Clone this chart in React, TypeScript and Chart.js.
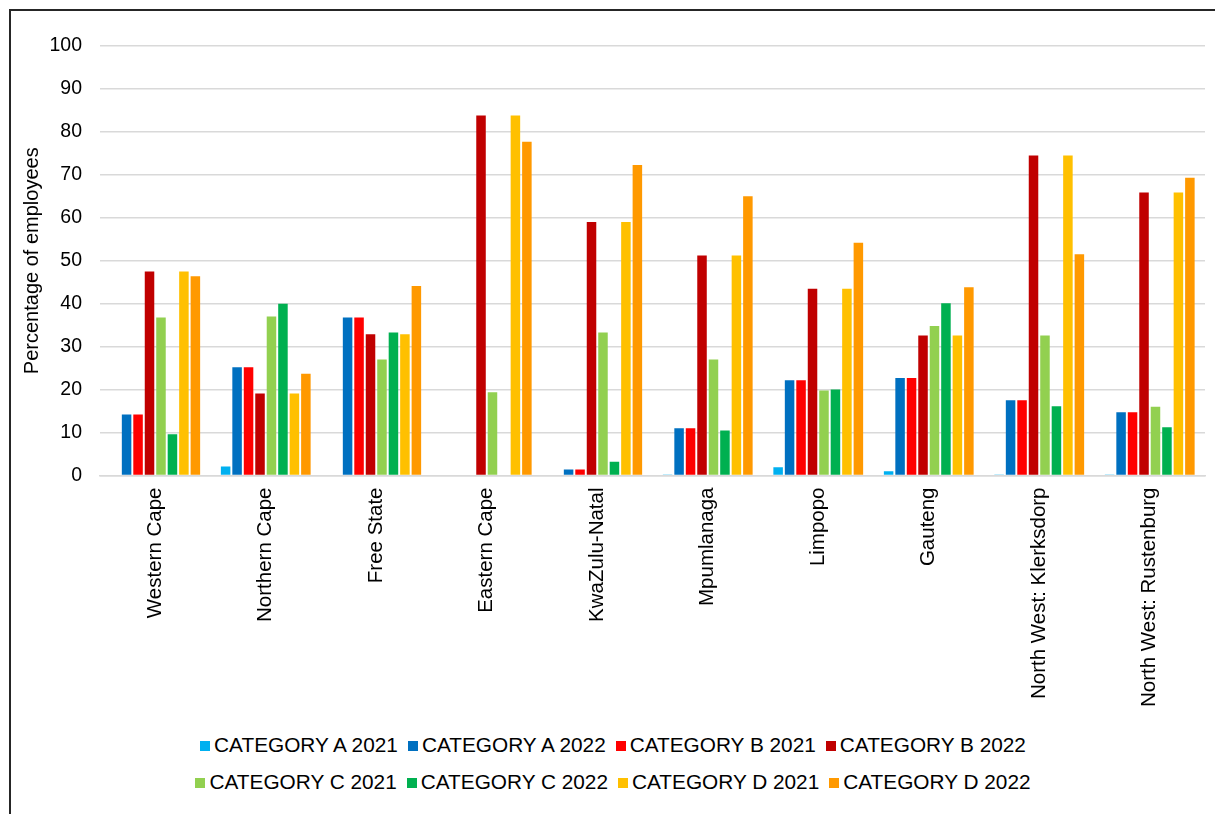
import React, { useEffect, useRef } from "react";
import { Chart, registerables } from "chart.js";

Chart.register(...registerables);

const regions = [
  "Western Cape",
  "Northern Cape",
  "Free State",
  "Eastern Cape",
  "KwaZulu-Natal",
  "Mpumlanaga",
  "Limpopo",
  "Gauteng",
  "North West: Klerksdorp",
  "North West: Rustenburg",
];

const catA2021 = [0, 2.1, 0, 0, 0, 0.2, 1.9, 1.0, 0.1, 0.1];
const catA2022 = [14.2, 25.2, 36.8, 0, 1.4, 11.0, 22.2, 22.7, 17.5, 14.7];
const catB2021 = [14.2, 25.2, 36.8, 0, 1.4, 11.0, 22.2, 22.7, 17.5, 14.7];
const catB2022 = [47.5, 19.1, 32.9, 83.8, 59.0, 51.2, 43.5, 32.6, 74.5, 65.9];
const catC2021 = [36.8, 37.0, 27.0, 19.4, 33.3, 27.0, 19.8, 34.8, 32.6, 16.0];
const catC2022 = [9.6, 40.0, 33.3, 0, 3.2, 10.5, 20.0, 40.1, 16.1, 11.2];
const catD2021 = [47.5, 19.1, 32.9, 83.8, 59.0, 51.2, 43.5, 32.6, 74.5, 65.9];
const catD2022 = [46.4, 23.7, 44.1, 77.7, 72.3, 65.0, 54.2, 43.8, 51.5, 69.3];

const seriesNames = [
  "CATEGORY A 2021",
  "CATEGORY A 2022",
  "CATEGORY B 2021",
  "CATEGORY B 2022",
  "CATEGORY C 2021",
  "CATEGORY C 2022",
  "CATEGORY D 2021",
  "CATEGORY D 2022",
];
const seriesValues = [catA2021, catA2022, catB2021, catB2022, catC2021, catC2022, catD2021, catD2022];
const seriesColors = ["#00B0F0", "#0070C0", "#FF0000", "#C00000", "#92D050", "#00B050", "#FFC000", "#FF9900"];

const yTicks = [0, 10, 20, 30, 40, 50, 60, 70, 80, 90, 100];

const FONT = "'Liberation Sans', Arial, sans-serif";

export default function App() {
  const ref = useRef<HTMLCanvasElement | null>(null);

  useEffect(() => {
    if (!ref.current) return;
    const chart = new Chart(ref.current, {
      type: "bar",
      data: {
        labels: regions,
        datasets: seriesNames.map((name, i) => ({
          label: name,
          data: seriesValues[i],
          backgroundColor: seriesColors[i],
          borderWidth: 0,
          categoryPercentage: 0.83,
          barPercentage: 0.83,
        })),
      },
      options: {
        responsive: false,
        animation: false,
        layout: { padding: { top: 35, left: 9, right: 10, bottom: 7 } },
        plugins: {
          legend: { display: false },
          tooltip: { enabled: false },
        },
        scales: {
          x: {
            grid: { display: false, drawTicks: false },
            border: { display: true, color: "#d9d9d9", width: 1.5 },
            ticks: {
              color: "#000",
              font: { family: FONT, size: 20.5 },
              maxRotation: 90,
              minRotation: 90,
              padding: 12,
              autoSkip: false,
            },
          },
          y: {
            min: 0,
            max: 100,
            afterBuildTicks: (axis: any) => {
              axis.ticks = yTicks.map((v) => ({ value: v }));
            },
            afterFit: (axis: any) => {
              axis.width = 80;
            },
            grid: { color: "#d9d9d9", lineWidth: 1.5, drawTicks: false },
            border: { display: false },
            ticks: {
              color: "#000",
              font: { family: FONT, size: 19.5 },
              padding: 18,
            },
            title: {
              display: true,
              text: "Percentage of employees",
              color: "#000",
              font: { family: FONT, size: 20 },
              padding: { top: 0, bottom: 0 },
            },
          },
        },
      },
    });
    return () => chart.destroy();
  }, []);

  const rows = [seriesNames.slice(0, 4), seriesNames.slice(4, 8)];

  return (
    <div
      style={{
        position: "absolute",
        left: 9,
        top: 9,
        width: 1206,
        height: 805,
        boxSizing: "border-box",
        borderLeft: "2px solid #262626",
        borderTop: "2px solid #262626",
        background: "#fff",
        overflow: "hidden",
      }}
    >
      <canvas ref={ref} width={1204} height={715} style={{ display: "block" }} />
      <div
        style={{
          position: "absolute",
          left: 0,
          top: 715,
          width: 1214,
          fontFamily: FONT,
          fontSize: 20.8,
          color: "#000",
        }}
      >
        {rows.map((row, r) => (
          <div
            key={r}
            style={{
              display: "flex",
              justifyContent: "center",
              height: 37,
              lineHeight: "24px",
            }}
          >
            {row.map((name) => {
              const idx = seriesNames.indexOf(name);
              return (
                <div key={name} style={{ display: "flex", alignItems: "center", marginRight: 10 }}>
                  <span
                    style={{
                      display: "inline-block",
                      width: 10,
                      height: 10,
                      background: seriesColors[idx],
                      marginRight: 4,
                      marginTop: 3,
                    }}
                  />
                  <span style={{ whiteSpace: "nowrap" }}>{name}</span>
                </div>
              );
            })}
          </div>
        ))}
      </div>
    </div>
  );
}
